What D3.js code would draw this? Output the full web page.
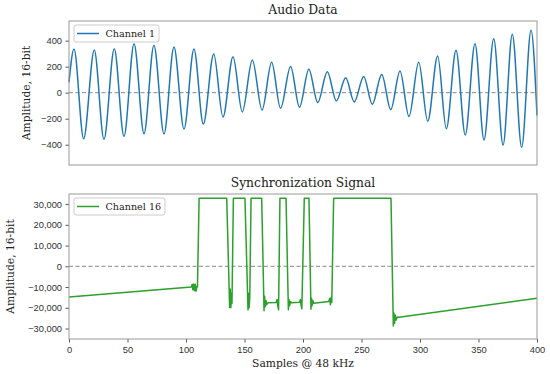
<!DOCTYPE html>
<html>
<head>
<meta charset="utf-8">
<script src="https://cdn.jsdelivr.net/npm/d3@7"></script>
<style>
  body { margin: 0; background: #fff; }
  svg { display: block; font-family: 'DejaVu Serif', serif; }
  .tick text { fill: #333; font-size: 9.3px; }
  .tick line { stroke: #555; }
  .domain { display: none; }
</style>
</head>
<body>
<svg id="chart" width="550" height="374"></svg>
<script>
// Channel 1 -- sample index / amplitude of each peak and trough
var audioX = [0, 4.3, 12.5, 21.6, 29.9, 38.7, 47, 55.6, 64.1, 72.6, 81.2, 89.7, 98.3,
  106.8, 114.8, 123.7, 131.6, 140.2, 148.1, 156.7, 165, 173.2, 180.8, 189.4, 197,
  205, 212.6, 220.8, 228.5, 236.5, 243.8, 251.9, 259.2, 267.3, 275, 282.9, 290.6,
  298.9, 306.6, 315.1, 322.5, 330.8, 338.7, 347, 354.7, 363, 371, 378.9, 386.9, 394.9, 400];
var audioY = [80, 335, -354, 328, -359, 338, -336, 377, -315, 364, -318, 351, -279,
  336, -241, 298, -187, 277, -148, 251, -133, 234, -120, 202, -112,
  181, -76, 160, -64, 114, -71, 125, -89, 140, -130, 166, -183,
  234, -220, 282, -277, 326, -325, 377, -364, 415, -402, 450, -420, 480, -175];

// Channel 16 -- sync pulses, with the ringing after each edge
var syncX = [0, 104.5, 105.2, 105.8, 106.5, 107.2, 107.9, 108.6, 109.3, 109.8,
  111.2, 134.8, 137.3, 137.8, 138.3, 138.8, 139.3, 140.5, 150.4, 153, 153.5, 154, 154.5,
  155.6, 164.7, 166.7, 167.2, 167.7, 168.3, 169, 170, 177, 177.8, 178.4, 179.1,
  180.3, 185.5, 187.5, 188, 188.6, 189.3, 190.2, 197, 197.8, 198.4, 199,
  201.1, 205.1, 206.8, 207.3, 207.8, 208.4, 209.2, 222, 222.8, 223.4, 224, 224.6,
  226.2, 275.2, 277.2, 277.7, 278.2, 278.8, 279.5, 280.5, 282, 400];
var syncY = [-14800, -10000, -8800, -11300, -8500, -11800, -8700, -12000, -9800, -10000,
  32767, 32767, -19800, -11000, -20000, -13000, -18000, 32767, 32767, -21100, -13000, -20000, -15000,
  32767, 32767, -21400, -14500, -19500, -16500, -18500, -17600, -17400, -16000, -19000, -21000,
  32767, 32767, -21000, -16000, -19000, -17000, -17600, -17300, -16000, -19000, -20500,
  32767, 32767, -20700, -15500, -19000, -16500, -17800, -17000, -15500, -18500, -15000, -17500,
  32767, 32767, -28800, -22500, -27500, -23500, -26000, -24500, -24600, -15400];

var xTicks = [0, 50, 100, 150, 200, 250, 300, 350, 400];
var audioTicks = [-400, -200, 0, 200, 400];
var syncTicks = [-30000, -20000, -10000, 0, 10000, 20000, 30000];

var svg = d3.select('#chart');
var left = 69, right = 537;

var x = d3.scaleLinear().domain([0, 400]).range([left, right]);

function panel(o) {
  var y = d3.scaleLinear().domain(o.domain).range([o.bottom, o.top]);
  var g = svg.append('g');

  // title
  g.append('text')
    .attr('x', (left + right) / 2)
    .attr('y', o.top - 7)
    .attr('text-anchor', 'middle')
    .style('font-size', '12.3px')
    .style('fill', '#222')
    .text(o.title);

  // zero line
  g.append('line')
    .attr('x1', left).attr('x2', right)
    .attr('y1', y(0)).attr('y2', y(0))
    .style('stroke', '#888')
    .style('stroke-width', 1)
    .style('stroke-dasharray', '4,2.5');

  // the signal
  var data = o.xs.map(function(d, i) { return [d, o.ys[i]]; });
  var line = d3.line()
    .x(function(d) { return x(d[0]); })
    .y(function(d) { return y(d[1]); })
    .curve(o.curve);
  g.append('path')
    .datum(data)
    .attr('d', line)
    .style('fill', 'none')
    .style('stroke', o.color)
    .style('stroke-width', 1.5)
    .style('stroke-linejoin', 'round');

  // y axis
  g.append('g')
    .attr('transform', 'translate(' + left + ',0)')
    .call(d3.axisLeft(y).tickValues(o.ticks).tickSize(3.5).tickPadding(3.5)
      .tickFormat(d3.format(',')));

  // x axis only on the bottom panel
  if (o.xaxis) {
    g.append('g')
      .attr('transform', 'translate(0,' + o.bottom + ')')
      .call(d3.axisBottom(x).tickValues(xTicks).tickSize(3.5).tickPadding(3.5));
    g.append('text')
      .attr('x', (left + right) / 2)
      .attr('y', o.bottom + 24)
      .attr('text-anchor', 'middle')
      .attr('dominant-baseline', 'central')
      .style('font-size', '10.7px')
      .style('fill', '#222')
      .text('Samples @ 48 kHz');
  }

  // y label
  g.append('text')
    .attr('transform', 'translate(' + o.labelX + ',' + (o.top + o.bottom) / 2 + ') rotate(-90)')
    .attr('text-anchor', 'middle')
    .attr('dominant-baseline', 'central')
    .style('font-size', '10.7px')
    .style('fill', '#222')
    .text('Amplitude, 16-bit');

  // frame
  g.append('rect')
    .attr('x', left).attr('y', o.top)
    .attr('width', right - left).attr('height', o.bottom - o.top)
    .style('fill', 'none')
    .style('stroke', '#999')
    .style('stroke-width', 1);

  // legend
  var lg = g.append('g').attr('transform', 'translate(' + (left + 5) + ',' + (o.top + 4) + ')');
  lg.append('rect')
    .attr('width', o.legendW).attr('height', 17)
    .attr('rx', 2)
    .style('fill', '#fff').style('fill-opacity', 0.8)
    .style('stroke', '#ccc');
  lg.append('line')
    .attr('x1', 3).attr('x2', 25).attr('y1', 8.5).attr('y2', 8.5)
    .style('stroke', o.color).style('stroke-width', 1.5);
  lg.append('text')
    .attr('x', 31.5).attr('y', 8.5)
    .attr('dominant-baseline', 'central')
    .style('font-size', '9.6px')
    .style('fill', '#222')
    .text(o.name);
}

panel({
  title: 'Audio Data', name: 'Channel 1', color: '#1f77b4',
  top: 21, bottom: 165, domain: [-556, 551], ticks: audioTicks,
  xs: audioX, ys: audioY, curve: d3.curveMonotoneX,
  labelX: 26, legendW: 85, xaxis: false
});

panel({
  title: 'Synchronization Signal', name: 'Channel 16', color: '#2ca02c',
  top: 194, bottom: 339, domain: [-35060, 34870], ticks: syncTicks,
  xs: syncX, ys: syncY, curve: d3.curveLinear,
  labelX: 10, legendW: 91, xaxis: true
});
</script>
</body>
</html>
